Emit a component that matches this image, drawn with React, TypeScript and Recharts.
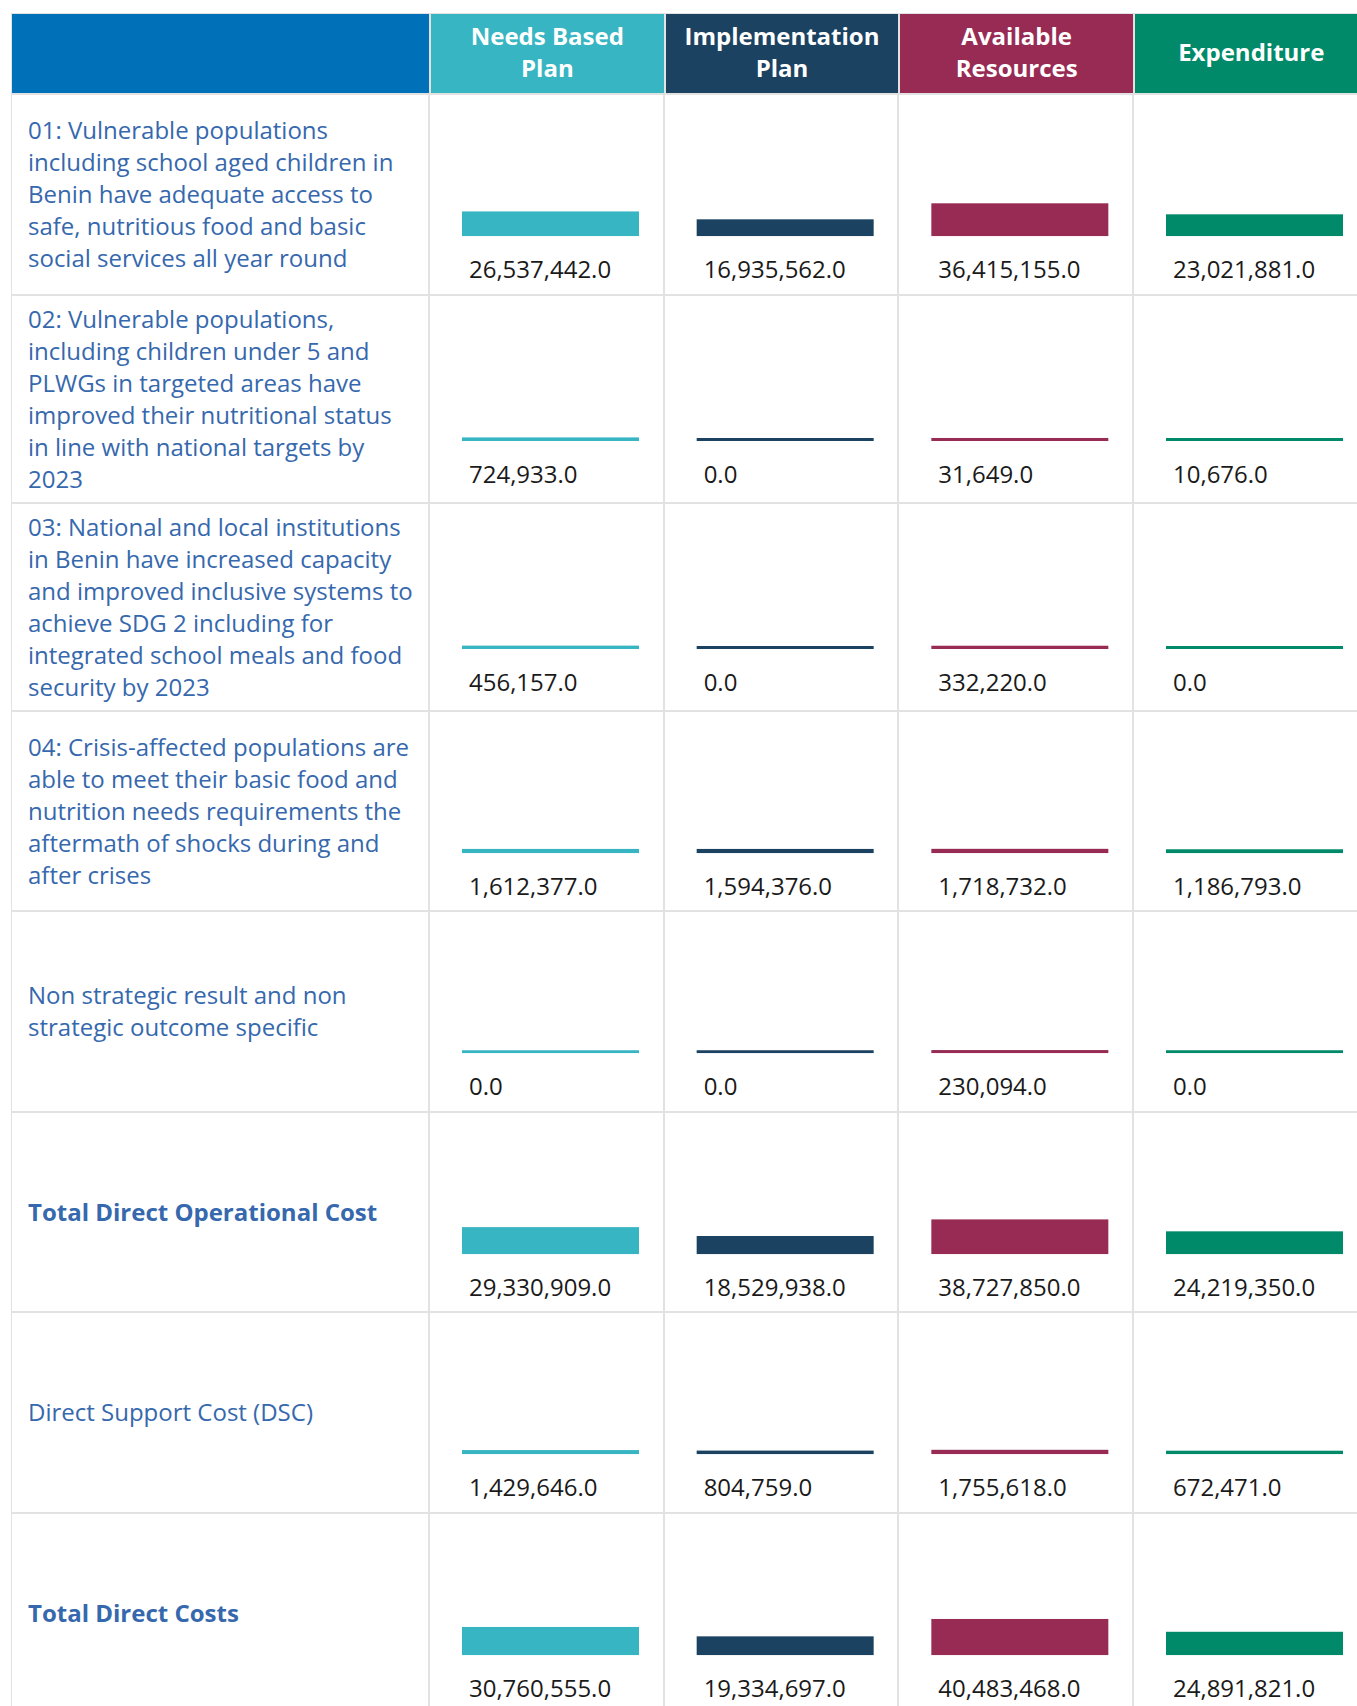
import React from 'react';
import { BarChart, Bar, XAxis, YAxis, Cell, LabelList } from 'recharts';

// ---- data ----
const seriesNames = ['Needs Based Plan', 'Implementation Plan', 'Available Resources', 'Expenditure'];
const seriesHeaderLines = [['Needs Based', 'Plan'], ['Implementation', 'Plan'], ['Available', 'Resources'], ['Expenditure']];

const rowLabels = [
  '01: Vulnerable populations\nincluding school aged children in\nBenin have adequate access to\nsafe, nutritious food and basic\nsocial services all year round',
  '02: Vulnerable populations,\nincluding children under 5 and\nPLWGs in targeted areas have\nimproved their nutritional status\nin line with national targets by\n2023',
  '03: National and local institutions\nin Benin have increased capacity\nand improved inclusive systems to\nachieve SDG 2 including for\nintegrated school meals and food\nsecurity by 2023',
  '04: Crisis-affected populations are\nable to meet their basic food and\nnutrition needs requirements the\naftermath of shocks during and\nafter crises',
  'Non strategic result and non\nstrategic outcome specific',
  'Total Direct Operational Cost',
  'Direct Support Cost (DSC)',
  'Total Direct Costs',
];
const boldRows = [false, false, false, false, false, true, false, true];

const needsBasedPlan = [26537442, 724933, 456157, 1612377, 0, 29330909, 1429646, 30760555];
const implementationPlan = [16935562, 0, 0, 1594376, 0, 18529938, 804759, 19334697];
const availableResources = [36415155, 31649, 332220, 1718732, 230094, 38727850, 1755618, 40483468];
const expenditure = [23021881, 10676, 0, 1186793, 0, 24219350, 672471, 24891821];

const seriesValues = [needsBasedPlan, implementationPlan, availableResources, expenditure];

// ---- styles ----
const SERIES_COLORS = ['#37B5C3', '#1C4262', '#982B54', '#008A69'];
const HEADER_BLUE = '#0070B8';
const LABEL_BLUE = '#3668AD';
const GRID = '#e2e2e2';
const FONT = '"Open Sans", "Noto Sans", sans-serif';

const TABLE_LEFT = 12;
const TABLE_TOP = 13;
const LABEL_W = 417;
const COL_W = 234.67;
const HEADER_H = 80;
const PLOT_H = 44;
const DOMAIN_MAX = 53.5e6;
const MIN_BAR = 3;

const fmt = (v: number) =>
  Number(v).toLocaleString('en-US', { minimumFractionDigits: 1, maximumFractionDigits: 1 });

const BarShape = (props: any) => {
  const { x, y, width, height, index } = props;
  const fill = SERIES_COLORS[index] || props.fill;
  return <rect x={x} y={y - MIN_BAR} width={width} height={Math.max(0, height) + MIN_BAR} fill={fill} />;
};

const ValueLabel = (props: any) => {
  const vb = props.viewBox || {};
  const x = props.x ?? vb.x;
  const y = props.y ?? vb.y;
  const h = props.height ?? vb.height ?? 0;
  return (
    <text x={Number(x) + 7} y={Number(y) + Number(h) + 42} fontSize={24} fill="#1a1a1a" fontFamily={FONT}>
      {fmt(props.value)}
    </text>
  );
};

const rows = rowLabels.map((label, i) => {
  const lines = label.split('\n');
  return {
    lines,
    bold: boldRows[i],
    height: Math.max(200.5, lines.length * 32 + 16),
    data: seriesNames.map((name, j) => ({ name, value: seriesValues[j][i] })),
  };
});

export default function App() {
  let acc = HEADER_H;
  const tops = rows.map((r) => {
    const t = acc;
    acc += r.height;
    return t;
  });
  const totalH = acc;
  const tableW = LABEL_W + COL_W * 4;

  return (
    <div
      style={{
        position: 'fixed',
        left: 0,
        top: 0,
        width: 1357,
        height: 1706,
        overflow: 'hidden',
        background: '#fff',
        fontFamily: FONT,
      }}
    >
      <div style={{ position: 'absolute', left: TABLE_LEFT, top: TABLE_TOP, width: tableW, height: totalH }}>
        {/* header */}
        <div style={{ position: 'absolute', left: 0, top: 0, width: tableW, height: HEADER_H, display: 'flex', borderTop: `1px solid ${GRID}`, boxSizing: 'border-box' }}>
          <div style={{ width: LABEL_W, height: '100%', background: HEADER_BLUE }} />
          {seriesHeaderLines.map((hl, j) => (
            <div
              key={j}
              style={{
                width: COL_W,
                height: '100%',
                background: SERIES_COLORS[j],
                color: '#fff',
                fontWeight: 700,
                fontSize: 24,
                lineHeight: '32px',
                display: 'flex',
                flexDirection: 'column',
                alignItems: 'center',
                justifyContent: 'center',
                textAlign: 'center',
                boxSizing: 'border-box',
                borderLeft: `2px solid ${GRID}`,
                paddingBottom: 3,
              }}
            >
              {hl.map((l, k) => (
                <div key={k} style={{ whiteSpace: 'nowrap' }}>{l}</div>
              ))}
            </div>
          ))}
        </div>

        {/* rows */}
        {rows.map((r, i) => {
          const chartH = r.height - 2;
          const yb = r.height / 2 + 41;
          return (
            <div
              key={i}
              style={{
                position: 'absolute',
                left: 0,
                top: tops[i],
                width: tableW,
                height: r.height,
                borderTop: `2px solid ${GRID}`,
                boxSizing: 'border-box',
                display: 'flex',
              }}
            >
              <div
                style={{
                  width: LABEL_W,
                  flex: 'none',
                  height: '100%',
                  paddingLeft: 16,
                  boxSizing: 'border-box',
                  display: 'flex',
                  flexDirection: 'column',
                  justifyContent: 'center',
                  color: LABEL_BLUE,
                  fontSize: 24,
                  lineHeight: '32px',
                  fontWeight: r.bold ? 700 : 400,
                }}
              >
                {r.lines.map((l, k) => (
                  <div key={k} style={{ whiteSpace: 'nowrap' }}>{l}</div>
                ))}
              </div>
              <div style={{ position: 'relative', width: COL_W * 4, height: chartH, flex: 'none' }}>
                <BarChart
                  width={COL_W * 4 + 4}
                  height={chartH}
                  data={r.data}
                  margin={{ top: yb - PLOT_H, right: 0, left: 4, bottom: chartH - yb }}
                  barSize={177}
                  style={{ position: 'absolute', left: 0, top: 0 }}
                >
                  <XAxis dataKey="name" type="category" hide />
                  <YAxis type="number" domain={[0, DOMAIN_MAX]} hide allowDataOverflow />
                  <Bar dataKey="value" isAnimationActive={false} shape={BarShape}>
                    {r.data.map((d, j) => (
                      <Cell key={d.name} fill={SERIES_COLORS[j]} />
                    ))}
                    <LabelList dataKey="value" content={ValueLabel} />
                  </Bar>
                </BarChart>
              </div>
            </div>
          );
        })}

        {/* vertical grid lines */}
        <div style={{ position: 'absolute', left: -1, top: 0, width: 1, height: totalH, background: GRID }} />
        {[0, 1, 2, 3].map((j) => (
          <div
            key={j}
            style={{ position: 'absolute', left: LABEL_W + j * COL_W - 1, top: HEADER_H, width: 2, height: totalH - HEADER_H, background: GRID }}
          />
        ))}
      </div>
    </div>
  );
}
